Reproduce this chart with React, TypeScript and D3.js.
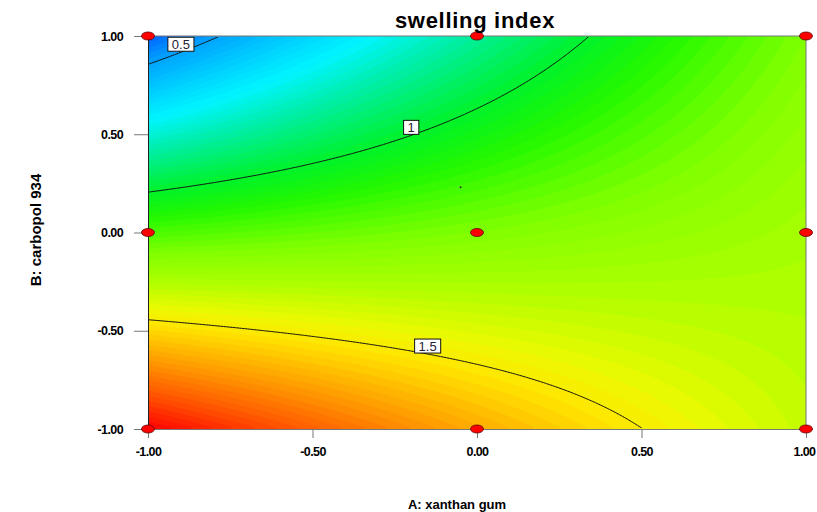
import React, { useEffect, useRef } from 'react';
import * as d3 from 'd3';

// design levels (coded) for A: xanthan gum and B: carbopol 934
const levelsA = [-1, 0, 1];
const levelsB = [-1, 0, 1];

// swelling index read at the design points, one row per B level, columns = A levels
const swellBm1 = [1.929, 1.628, 1.39];
const swellB0 = [1.158, 1.241, 1.33];
const swellBp1 = [0.389, 0.86, 1.24];

const contourLevels = [0.5, 1, 1.5];
const contourLabelA = [-0.9, -0.2, -0.15];
const tickValues = [-1, -0.5, 0, 0.5, 1];
const predictionPoint = [-0.05, 0.23];

// colour ramp of the surface (blue -> cyan -> green -> yellow -> red)
const rampValues = [0.38, 0.5, 0.72, 0.85, 1.0, 1.1, 1.24, 1.34, 1.46, 1.52, 1.65, 1.8, 1.93];
const rampColors = ['#005aff', '#00a5ff', '#00f5ff', '#00eea0', '#00f22a', '#22f800', '#80ff00',
    '#a8ff00', '#eefa00', '#ffe400', '#ffa000', '#ff5000', '#ff0000'];

const W = 817;
const H = 512;
const left = 148, right = 806, top = 36, bottom = 429;

// quadratic basis through the three coded levels
const basis = (t: number) => [t * (t - 1) / 2, 1 - t * t, t * (t + 1) / 2];

function swelling(a: number, b: number) {
    const rows = [swellBm1, swellB0, swellBp1];
    const la = basis(a);
    const lb = basis(b);
    let s = 0;
    for (let j = 0; j < 3; j++) {
        for (let i = 0; i < 3; i++) {
            s += lb[j] * la[i] * rows[j][i];
        }
    }
    return s;
}

function grid(nx: number, ny: number) {
    const values = new Array(nx * ny);
    for (let j = 0; j < ny; j++) {
        for (let i = 0; i < nx; i++) {
            const a = -1 + 2 * (i + 0.5) / nx;
            const b = 1 - 2 * (j + 0.5) / ny;
            values[j * nx + i] = swelling(a, b);
        }
    }
    return values;
}

export default function App() {
    const ref = useRef<SVGSVGElement>(null);

    useEffect(() => {
        const svg = d3.select(ref.current);
        svg.selectAll('*').remove();

        const x = d3.scaleLinear().domain([-1, 1]).range([left, right]);
        const y = d3.scaleLinear().domain([-1, 1]).range([bottom, top]);
        const color = d3.scaleLinear<string>().domain(rampValues).range(rampColors).clamp(true);

        const makePath = (nx: number, ny: number) => {
            const gx = d3.scaleLinear().domain([0, nx]).range([left, right]);
            const gy = d3.scaleLinear().domain([0, ny]).range([top, bottom]);
            return d3.geoPath(d3.geoTransform({
                point(px: number, py: number) {
                    (this as any).stream.point(gx(px), gy(py));
                },
            }));
        };

        const defs = svg.append('defs');
        defs.append('clipPath').attr('id', 'plotClip')
            .append('rect').attr('x', left).attr('y', top)
            .attr('width', right - left).attr('height', bottom - top);
        defs.append('clipPath').attr('id', 'lineClip')
            .append('rect').attr('x', left + 1).attr('y', top + 1)
            .attr('width', right - left - 2).attr('height', bottom - top - 2);

        // filled surface
        const nx = 220, ny = 131;
        const values = grid(nx, ny);
        const bands = d3.range(0.36, 1.96, 0.02);
        const filled = d3.contours().size([nx, ny]).thresholds(bands)(values);
        const surface = svg.append('g').attr('clip-path', 'url(#plotClip)');
        surface.append('rect')
            .attr('x', left).attr('y', top)
            .attr('width', right - left).attr('height', bottom - top)
            .attr('fill', color(0.36));
        surface.selectAll('path.band').data(filled).enter()
            .append('path')
            .attr('class', 'band')
            .attr('d', d => makePath(nx, ny)(d as any))
            .attr('fill', d => color(d.value + 0.01))
            .attr('stroke', d => color(d.value + 0.01))
            .attr('stroke-width', 0.6);

        // contour lines
        const lx = 440, ly = 262;
        const lineValues = grid(lx, ly);
        const lines = d3.contours().size([lx, ly]).thresholds(contourLevels)(lineValues);
        svg.append('g').attr('clip-path', 'url(#lineClip)')
            .selectAll('path').data(lines).enter()
            .append('path')
            .attr('d', d => makePath(lx, ly)(d as any))
            .attr('fill', 'none')
            .attr('stroke', '#111')
            .attr('stroke-width', 1);

        // contour labels, sitting just above their line
        const labels = svg.append('g')
            .style('font-family', '"Liberation Sans", Arial, sans-serif')
            .style('font-size', '13px');
        contourLevels.forEach((level, k) => {
            const a = contourLabelA[k];
            let lo = -1, hi = 1;
            for (let it = 0; it < 40; it++) {
                const mid = (lo + hi) / 2;
                if (swelling(a, mid) > level) lo = mid; else hi = mid;
            }
            const cx = x(a);
            const cy = y((lo + hi) / 2) - 8;
            const g = labels.append('g');
            const t = g.append('text')
                .attr('x', cx).attr('y', cy + 4.5)
                .attr('text-anchor', 'middle')
                .attr('fill', '#223')
                .text(String(level));
            const tw = (t.node() as SVGTextElement).getComputedTextLength();
            g.insert('rect', 'text')
                .attr('x', cx - tw / 2 - 4).attr('y', cy - 7)
                .attr('width', tw + 8).attr('height', 14)
                .attr('fill', '#fff').attr('stroke', '#111').attr('stroke-width', 1);
        });

        // frame
        const frame = svg.append('g');
        frame.append('line').attr('x1', left).attr('x2', right).attr('y1', top).attr('y2', top)
            .attr('stroke', '#777');
        frame.append('line').attr('x1', right).attr('x2', right).attr('y1', top).attr('y2', bottom)
            .attr('stroke', '#777');

        const axisFont = '"Liberation Sans", Arial, sans-serif';
        const fmt = (d: d3.NumberValue) => (+d).toFixed(2);

        const xAxis = svg.append('g')
            .attr('transform', `translate(0,${bottom})`)
            .call(d3.axisBottom(x).tickValues(tickValues).tickFormat(fmt)
                .tickSizeInner(9).tickSizeOuter(0).tickPadding(9));
        xAxis.select('.domain').attr('stroke', '#777');
        xAxis.selectAll('.tick line').attr('stroke', '#777');
        xAxis.selectAll('.tick text')
            .style('font-family', axisFont).style('font-size', '12.5px')
            .style('font-weight', 'bold').style('letter-spacing', '-0.6px')
            .attr('fill', '#000');
        // last label is pushed in a little so it stays inside the page
        xAxis.selectAll('.tick text').filter((d: any) => d === 1).attr('dx', '-2');

        const yAxis = svg.append('g')
            .attr('transform', `translate(${left},0)`)
            .call(d3.axisLeft(y).tickValues(tickValues).tickFormat(fmt)
                .tickSizeInner(14).tickSizeOuter(0).tickPadding(11));
        yAxis.select('.domain').attr('stroke', '#222');
        yAxis.selectAll('.tick line').attr('stroke', '#777');
        yAxis.selectAll('.tick text')
            .style('font-family', axisFont).style('font-size', '12.5px')
            .style('font-weight', 'bold').style('letter-spacing', '-0.6px')
            .attr('fill', '#000');

        // design points
        const pts = levelsB.flatMap(b => levelsA.map(a => [a, b]));
        svg.append('g').selectAll('ellipse').data(pts).enter()
            .append('ellipse')
            .attr('cx', d => x(d[0])).attr('cy', d => y(d[1]))
            .attr('rx', 6.5).attr('ry', 4)
            .attr('fill', '#ff0000')
            .attr('stroke', '#5a0000').attr('stroke-width', 0.8);

        svg.append('circle')
            .attr('cx', x(predictionPoint[0])).attr('cy', y(predictionPoint[1]))
            .attr('r', 1).attr('fill', '#333');

        // titles
        svg.append('text')
            .attr('x', (left + right) / 2 - 2).attr('y', 28)
            .attr('text-anchor', 'middle')
            .style('font-family', axisFont).style('font-size', '22px')
            .style('font-weight', 'bold').style('letter-spacing', '0.7px')
            .text('swelling index');

        svg.append('text')
            .attr('x', 457).attr('y', 509)
            .attr('text-anchor', 'middle')
            .style('font-family', axisFont).style('font-size', '13px')
            .style('font-weight', 'bold')
            .text('A: xanthan gum');

        svg.append('text')
            .attr('transform', 'translate(41,230) rotate(-90)')
            .attr('text-anchor', 'middle')
            .style('font-family', axisFont).style('font-size', '15px')
            .style('font-weight', 'bold')
            .text('B: carbopol 934');
    }, []);

    return (
        <svg
            ref={ref}
            width={W}
            height={H}
            style={{ position: 'absolute', left: 0, top: 0, background: '#fff' }}
        />
    );
}
